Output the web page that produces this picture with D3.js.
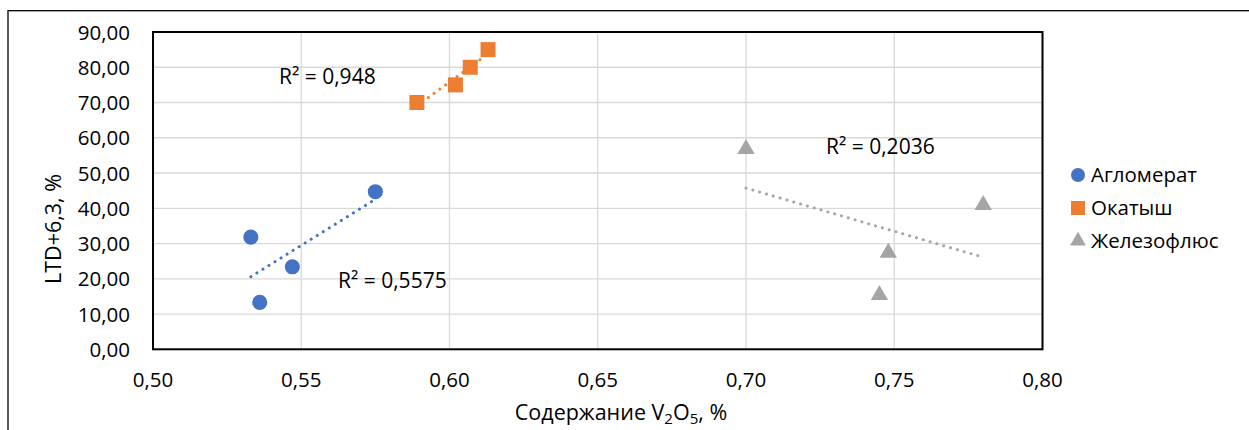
<!DOCTYPE html>
<html>
<head>
<meta charset="utf-8">
<script src="https://cdn.jsdelivr.net/npm/d3@7"></script>
<style>
  body { margin: 0; background: #fff; }
  svg { font-family: 'Open Sans', sans-serif; }
  .grid line { stroke: #d9d9d9; stroke-width: 1.3; }
  .tick-label { font-size: 20.5px; fill: #000; }
  .axis-title { font-size: 21.5px; fill: #000; }
  .r2 { font-size: 21px; fill: #000; }
  .legend text { font-size: 20.5px; fill: #000; }
</style>
</head>
<body>
<svg id="chart" width="1249" height="430"></svg>
<script>
'use strict';

// series names and colours (legend order)
var seriesNames = ['Агломерат', 'Окатыш', 'Железофлюс'];
var seriesColors = ['#4472c4', '#ed7d31', '#a5a5a5'];
var seriesShapes = ['circle', 'square', 'triangle'];

// values
var agloX = [0.533, 0.536, 0.547, 0.575];
var agloY = [31.8, 13.3, 23.4, 44.7];
var okatX = [0.589, 0.602, 0.607, 0.613];
var okatY = [70, 75, 80, 85];
var zhelX = [0.700, 0.745, 0.748, 0.780];
var zhelY = [56.8, 15.4, 27.4, 40.9];

var r2Labels = ['R² = 0,5575', 'R² = 0,948', 'R² = 0,2036'];

// axis ticks
var xTicks = [0.50, 0.55, 0.60, 0.65, 0.70, 0.75, 0.80];
var yTicks = [0, 10, 20, 30, 40, 50, 60, 70, 80, 90];

var plot = {left: 153, top: 32, right: 1042.5, bottom: 349.3};
// where the R² labels sit (x, baseline) in pixels
var r2Pos = [[338, 288], [279, 84], [826, 154]];

var svg = d3.select('#chart');

var x = d3.scaleLinear().domain([0.5, 0.8]).range([plot.left, plot.right]);
var y = d3.scaleLinear().domain([0, 90]).range([plot.bottom, plot.top]);

var comma = function(f) { return function(v) { return f(v).replace('.', ','); }; };
var fmt2 = comma(d3.format('.2f'));

// outer chart frame
svg.append('rect')
    .attr('x', 8).attr('y', 10.7)
    .attr('width', 1260).attr('height', 440)
    .attr('fill', 'none')
    .attr('stroke', '#000')
    .attr('stroke-width', 1.3);

// gridlines
var grid = svg.append('g').attr('class', 'grid');
grid.selectAll('.h')
    .data(yTicks)
  .enter().append('line')
    .attr('x1', plot.left).attr('x2', plot.right)
    .attr('y1', function(d) { return y(d); })
    .attr('y2', function(d) { return y(d); });
grid.selectAll('.v')
    .data(xTicks)
  .enter().append('line')
    .attr('y1', plot.top).attr('y2', plot.bottom)
    .attr('x1', function(d) { return x(d); })
    .attr('x2', function(d) { return x(d); });

// plot frame
svg.append('rect')
    .attr('x', plot.left).attr('y', plot.top)
    .attr('width', plot.right - plot.left)
    .attr('height', plot.bottom - plot.top)
    .attr('fill', 'none')
    .attr('stroke', '#000')
    .attr('stroke-width', 2);

// tick labels
svg.append('g').selectAll('text')
    .data(yTicks)
  .enter().append('text')
    .attr('class', 'tick-label')
    .attr('x', 130)
    .attr('y', function(d) { return y(d) + 7.5; })
    .attr('text-anchor', 'end')
    .text(fmt2);

svg.append('g').selectAll('text')
    .data(xTicks)
  .enter().append('text')
    .attr('class', 'tick-label')
    .attr('x', function(d) { return x(d); })
    .attr('y', 387)
    .attr('text-anchor', 'middle')
    .text(fmt2);

// axis titles
var xt = svg.append('text')
    .attr('class', 'axis-title')
    .attr('x', 621)
    .attr('y', 420)
    .attr('text-anchor', 'middle');
xt.append('tspan').text('Содержание V');
xt.append('tspan').attr('dy', 3.5).attr('font-size', 15).text('2');
xt.append('tspan').attr('dy', -3.5).text('O');
xt.append('tspan').attr('dy', 3.5).attr('font-size', 15).text('5');
xt.append('tspan').attr('dy', -3.5).text(', %');

svg.append('text')
    .attr('class', 'axis-title')
    .attr('transform', 'translate(61,229) rotate(-90)')
    .attr('text-anchor', 'middle')
    .text('LTD+6,3, %');

// linear least-squares trend over the data range
function trend(xs, ys) {
  var mx = d3.mean(xs), my = d3.mean(ys);
  var sxy = d3.sum(xs, function(v, i) { return (v - mx) * (ys[i] - my); });
  var sxx = d3.sum(xs, function(v) { return (v - mx) * (v - mx); });
  var b = sxy / sxx, a = my - b * mx;
  var ext = d3.extent(xs);
  return ext.map(function(v) { return [v, a + b * v]; });
}

var series = [[agloX, agloY], [okatX, okatY], [zhelX, zhelY]];
var line = d3.line()
    .x(function(d) { return x(d[0]); })
    .y(function(d) { return y(d[1]); });

series.forEach(function(s, k) {
  svg.append('path')
      .datum(trend(s[0], s[1]))
      .attr('d', line)
      .attr('fill', 'none')
      .attr('stroke', seriesColors[k])
      .attr('stroke-width', 3)
      .attr('stroke-linecap', 'round')
      .attr('stroke-dasharray', '0.1 7');
});

function symbolFor(shape) {
  if (shape === 'circle') return d3.symbol(d3.symbolCircle, 180)();
  if (shape === 'square') return d3.symbol(d3.symbolSquare, 225)();
  return d3.symbol(d3.symbolTriangle, 130)();
}

series.forEach(function(s, k) {
  svg.append('g').selectAll('path')
      .data(s[0].map(function(v, i) { return [v, s[1][i]]; }))
    .enter().append('path')
      .attr('d', symbolFor(seriesShapes[k]))
      .attr('transform', function(d) {
        return 'translate(' + x(d[0]) + ',' + y(d[1]) + ')';
      })
      .attr('fill', seriesColors[k]);
});

// R² labels
svg.append('g').selectAll('text')
    .data(r2Labels)
  .enter().append('text')
    .attr('class', 'r2')
    .attr('x', function(d, i) { return r2Pos[i][0]; })
    .attr('y', function(d, i) { return r2Pos[i][1]; })
    .text(function(d) { return d; });

// legend
var legend = svg.append('g')
    .attr('class', 'legend')
    .attr('transform', 'translate(1078,175)');
var items = legend.selectAll('g')
    .data(seriesNames)
  .enter().append('g')
    .attr('transform', function(d, i) { return 'translate(0,' + (i * 33) + ')'; });
items.append('path')
    .attr('d', function(d, i) {
      var shape = seriesShapes[i];
      if (shape === 'circle') return d3.symbol(d3.symbolCircle, 155)();
      if (shape === 'square') return d3.symbol(d3.symbolSquare, 196)();
      return d3.symbol(d3.symbolTriangle, 110)();
    })
    .attr('fill', function(d, i) { return seriesColors[i]; });
items.append('text')
    .attr('x', 13)
    .attr('y', 7)
    .text(function(d) { return d; });
</script>
</body>
</html>
